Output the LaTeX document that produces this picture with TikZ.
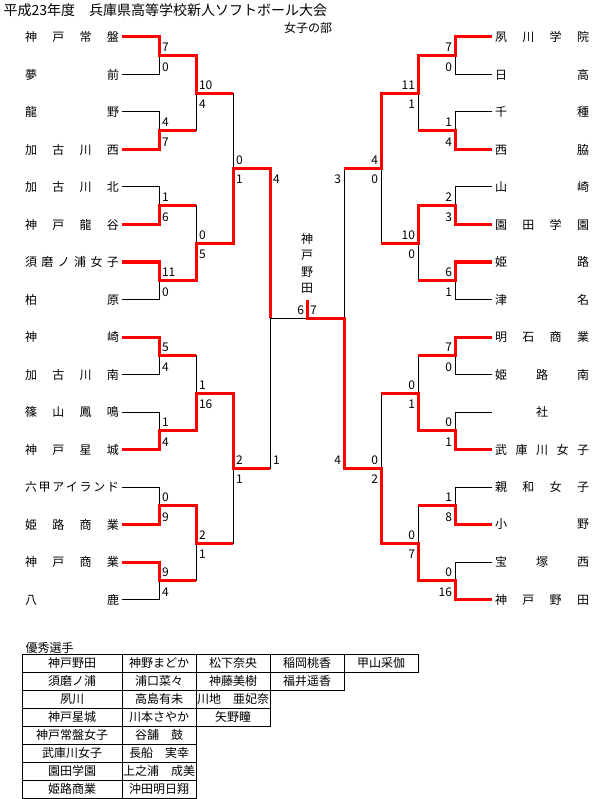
\documentclass[tikz,border=0pt]{standalone}
\usepackage{fontspec}
\setmainfont{Noto Sans CJK JP}
\usepackage{tikz}
\usetikzlibrary{positioning}
\newcommand\bkfont{\fontsize{12pt}{16.5pt}\selectfont}
\newcommand\ttlfont{\fontsize{14pt}{17pt}\selectfont}

\begin{document}
\begin{tikzpicture}[x=1pt, y=-1pt, line width=1pt, every node/.style={font=\bkfont}]
\tikzstyle{lname}=[anchor=east, text width=94pt, align=center, inner xsep=3pt, inner ysep=0pt, outer sep=0pt]
\tikzstyle{rname}=[anchor=west, text width=94pt, align=center, inner xsep=3pt, inner ysep=0pt, outer sep=0pt]
\tikzstyle{win}=[red, line width=3pt]
\tikzstyle{ltop}=[anchor=west, inner sep=0pt, xshift=2.5pt, yshift=8.5pt]
\tikzstyle{lbot}=[anchor=west, inner sep=0pt, xshift=2.5pt, yshift=-11pt]
\tikzstyle{rtop}=[anchor=east, inner sep=0pt, xshift=-2.5pt, yshift=8.5pt]
\tikzstyle{rbot}=[anchor=east, inner sep=0pt, xshift=-2.5pt, yshift=-11pt]
\tikzstyle{cell}=[draw, minimum width=74pt, minimum height=18pt, inner sep=0pt, outer sep=0pt]
\tikzstyle{wide}=[minimum width=100pt]
\useasboundingbox (0,0) rectangle (594,799);

\node[anchor=west, inner sep=0pt, font=\ttlfont] (title) at (3,10.5) {平成23年度　兵庫県高等学校新人ソフトボール大会};
\node[inner sep=0pt] (section) at (308,28) {女子の部};

% left half
\node[lname] (lt0) at (122,37) {神\hfill 戸\hfill 常\hfill 盤};
\node[lname] (lt1) at (122,74.5) {夢\hfill 前};
\node[lname] (lt2) at (122,112) {龍\hfill 野};
\node[lname] (lt3) at (122,149.5) {加\hfill 古\hfill 川\hfill 西};
\node[lname] (lt4) at (122,187) {加\hfill 古\hfill 川\hfill 北};
\node[lname] (lt5) at (122,224.5) {神\hfill 戸\hfill 龍\hfill 谷};
\node[lname] (lt6) at (122,262) {須\hfill 磨\hfill ノ\hfill 浦\hfill 女\hfill 子};
\node[lname] (lt7) at (122,299.5) {柏\hfill 原};
\node[lname] (lt8) at (122,337) {神\hfill 崎};
\node[lname] (lt9) at (122,374.5) {加\hfill 古\hfill 川\hfill 南};
\node[lname] (lt10) at (122,412) {篠\hfill 山\hfill 鳳\hfill 鳴};
\node[lname] (lt11) at (122,449.5) {神\hfill 戸\hfill 星\hfill 城};
\node[lname] (lt12) at (122,487) {六\hfill 甲\hfill ア\hfill イ\hfill ラ\hfill ン\hfill ド};
\node[lname] (lt13) at (122,524.5) {姫\hfill 路\hfill 商\hfill 業};
\node[lname] (lt14) at (122,562) {神\hfill 戸\hfill 商\hfill 業};
\node[lname] (lt15) at (122,599.5) {八\hfill 鹿};

% right half
\node[rname] (rt0) at (492,37) {夙\hfill 川\hfill 学\hfill 院};
\node[rname] (rt1) at (492,74.5) {日\hfill 高};
\node[rname] (rt2) at (492,112) {千\hfill 種};
\node[rname] (rt3) at (492,149.5) {西\hfill 脇};
\node[rname] (rt4) at (492,187) {山\hfill 崎};
\node[rname] (rt5) at (492,224.5) {園\hfill 田\hfill 学\hfill 園};
\node[rname] (rt6) at (492,262) {姫\hfill 路};
\node[rname] (rt7) at (492,299.5) {津\hfill 名};
\node[rname] (rt8) at (492,337) {明\hfill 石\hfill 商\hfill 業};
\node[rname] (rt9) at (492,374.5) {姫\hfill 路\hfill 南};
\node[rname] (rt10) at (492,412) {社};
\node[rname] (rt11) at (492,449.5) {武\hfill 庫\hfill 川\hfill 女\hfill 子};
\node[rname] (rt12) at (492,487) {親\hfill 和\hfill 女\hfill 子};
\node[rname] (rt13) at (492,524.5) {小\hfill 野};
\node[rname] (rt14) at (492,562) {宝\hfill 塚\hfill 西};
\node[rname] (rt15) at (492,599.5) {神\hfill 戸\hfill 野\hfill 田};

% match points
\coordinate (la1) at (159,55.75); \coordinate (la2) at (159,130.75); \coordinate (la3) at (159,205.75); \coordinate (la4) at (159,280.75);
\coordinate (la5) at (159,355.75); \coordinate (la6) at (159,430.75); \coordinate (la7) at (159,505.75); \coordinate (la8) at (159,580.75);
\coordinate (lb1) at (196,93.25); \coordinate (lb2) at (196,243.25); \coordinate (lb3) at (196,393.25); \coordinate (lb4) at (196,543.25);
\coordinate (lc1) at (233,168.25); \coordinate (lc2) at (233,468.25);
\coordinate (ld) at (270,318.25);
\coordinate (ra1) at (455,55.75); \coordinate (ra2) at (455,130.75); \coordinate (ra3) at (455,205.75); \coordinate (ra4) at (455,280.75);
\coordinate (ra5) at (455,355.75); \coordinate (ra6) at (455,430.75); \coordinate (ra7) at (455,505.75); \coordinate (ra8) at (455,580.75);
\coordinate (rb1) at (418,93.25); \coordinate (rb2) at (418,243.25); \coordinate (rb3) at (418,393.25); \coordinate (rb4) at (418,543.25);
\coordinate (rc1) at (381,168.25); \coordinate (rc2) at (381,468.25);
\coordinate (rd) at (344,318.25);
\coordinate (fin) at (307,318.25);
\coordinate (tick) at (307,300);

% bracket lines
\draw (lt0.east) -| (la1) (lt1.east) -| (la1) (lt2.east) -| (la2) (lt3.east) -| (la2)
      (lt4.east) -| (la3) (lt5.east) -| (la3) (lt6.east) -| (la4) (lt7.east) -| (la4)
      (lt8.east) -| (la5) (lt9.east) -| (la5) (lt10.east) -| (la6) (lt11.east) -| (la6)
      (lt12.east) -| (la7) (lt13.east) -| (la7) (lt14.east) -| (la8) (lt15.east) -| (la8);
\draw (la1) -| (lb1) (la2) -| (lb1) (la3) -| (lb2) (la4) -| (lb2)
      (la5) -| (lb3) (la6) -| (lb3) (la7) -| (lb4) (la8) -| (lb4)
      (lb1) -| (lc1) (lb2) -| (lc1) (lb3) -| (lc2) (lb4) -| (lc2)
      (lc1) -| (ld) (lc2) -| (ld) (ld) -- (fin) -- (rd);
\draw (rt0.west) -| (ra1) (rt1.west) -| (ra1) (rt2.west) -| (ra2) (rt3.west) -| (ra2)
      (rt4.west) -| (ra3) (rt5.west) -| (ra3) (rt6.west) -| (ra4) (rt7.west) -| (ra4)
      (rt8.west) -| (ra5) (rt9.west) -| (ra5) (rt10.west) -| (ra6) (rt11.west) -| (ra6)
      (rt12.west) -| (ra7) (rt13.west) -| (ra7) (rt14.west) -| (ra8) (rt15.west) -| (ra8);
\draw (ra1) -| (rb1) (ra2) -| (rb1) (ra3) -| (rb2) (ra4) -| (rb2)
      (ra5) -| (rb3) (ra6) -| (rb3) (ra7) -| (rb4) (ra8) -| (rb4)
      (rb1) -| (rc1) (rb2) -| (rc1) (rb3) -| (rc2) (rb4) -| (rc2)
      (rc1) -| (rd) (rc2) -| (rd);

% winners
\draw[win] (lt0.east) -| (la1) -| (lb1) -- (lb1 -| lc1);
\draw[win] (lt3.east) -| (la2) -- (la2 -| lb1);
\draw[win] (lt5.east) -| (la3) -- (la3 -| lb2);
\draw[win] (lt6.east) -| (la4) -| (lb2) -| (lc1) -| (ld);
\draw[win] (lt8.east) -| (la5) -- (la5 -| lb3);
\draw[win] (lt11.east) -| (la6) -| (lb3) -| (lc2) -- (lc2 -| ld);
\draw[win] (lt13.east) -| (la7) -| (lb4) -- (lb4 -| lc2);
\draw[win] (lt14.east) -| (la8) -- (la8 -| lb4);
\draw[win] (rt0.west) -| (ra1) -| (rb1) -| (rc1) -- (rc1 -| rd);
\draw[win] (rt3.west) -| (ra2) -- (ra2 -| rb1);
\draw[win] (rt5.west) -| (ra3) -| (rb2) -- (rb2 -| rc1);
\draw[win] (rt6.west) -| (ra4) -- (ra4 -| rb2);
\draw[win] (rt8.west) -| (ra5) -- (ra5 -| rb3);
\draw[win] (rt11.west) -| (ra6) -| (rb3) -- (rb3 -| rc2);
\draw[win] (rt13.west) -| (ra7) -- (ra7 -| rb4);
\draw[win] (rt15.west) -| (ra8) -| (rb4) -| (rc2) -| (rd) -- (fin) -- (tick);

% scores
\node[ltop] (la1u) at (la1) {7}; \node[lbot] (la1d) at (la1) {0};
\node[ltop] (la2u) at (la2) {4}; \node[lbot] (la2d) at (la2) {7};
\node[ltop] (la3u) at (la3) {1}; \node[lbot] (la3d) at (la3) {6};
\node[ltop] (la4u) at (la4) {11}; \node[lbot] (la4d) at (la4) {0};
\node[ltop] (la5u) at (la5) {5}; \node[lbot] (la5d) at (la5) {4};
\node[ltop] (la6u) at (la6) {1}; \node[lbot] (la6d) at (la6) {4};
\node[ltop] (la7u) at (la7) {0}; \node[lbot] (la7d) at (la7) {9};
\node[ltop] (la8u) at (la8) {9}; \node[lbot] (la8d) at (la8) {4};
\node[ltop] (lb1u) at (lb1) {10}; \node[lbot] (lb1d) at (lb1) {4};
\node[ltop] (lb2u) at (lb2) {0}; \node[lbot] (lb2d) at (lb2) {5};
\node[ltop] (lb3u) at (lb3) {1}; \node[lbot] (lb3d) at (lb3) {16};
\node[ltop] (lb4u) at (lb4) {2}; \node[lbot] (lb4d) at (lb4) {1};
\node[ltop] (lc1u) at (lc1) {0}; \node[lbot] (lc1d) at (lc1) {1};
\node[ltop] (lc2u) at (lc2) {2}; \node[lbot] (lc2d) at (lc2) {1};
\node[lbot] (ldu) at (lc1 -| ld) {4}; \node[ltop] (ldd) at (lc2 -| ld) {1};
\node[rtop] (ra1u) at (ra1) {7}; \node[rbot] (ra1d) at (ra1) {0};
\node[rtop] (ra2u) at (ra2) {1}; \node[rbot] (ra2d) at (ra2) {4};
\node[rtop] (ra3u) at (ra3) {2}; \node[rbot] (ra3d) at (ra3) {3};
\node[rtop] (ra4u) at (ra4) {6}; \node[rbot] (ra4d) at (ra4) {1};
\node[rtop] (ra5u) at (ra5) {7}; \node[rbot] (ra5d) at (ra5) {0};
\node[rtop] (ra6u) at (ra6) {0}; \node[rbot] (ra6d) at (ra6) {1};
\node[rtop] (ra7u) at (ra7) {1}; \node[rbot] (ra7d) at (ra7) {8};
\node[rtop] (ra8u) at (ra8) {0}; \node[rbot] (ra8d) at (ra8) {16};
\node[rtop] (rb1u) at (rb1) {11}; \node[rbot] (rb1d) at (rb1) {1};
\node[rtop] (rb2u) at (rb2) {10}; \node[rbot] (rb2d) at (rb2) {0};
\node[rtop] (rb3u) at (rb3) {0}; \node[rbot] (rb3d) at (rb3) {1};
\node[rtop] (rb4u) at (rb4) {0}; \node[rbot] (rb4d) at (rb4) {7};
\node[rtop] (rc1u) at (rc1) {4}; \node[rbot] (rc1d) at (rc1) {0};
\node[rtop] (rc2u) at (rc2) {0}; \node[rbot] (rc2d) at (rc2) {2};
\node[rbot] (rdu) at (rc1 -| rd) {3}; \node[rtop] (rdd) at (rc2 -| rd) {4};
\node[rtop] (finl) at (fin) {6}; \node[ltop] (finr) at (fin) {7};
\node[anchor=south, align=center, inner sep=0pt] (champ) at (307,294) {神\\戸\\野\\田};

% best players
\node[anchor=west, inner sep=0pt] (award) at (25,647.5) {優秀選手};
\node[cell, wide, anchor=north west] (c11) at (22,654) {神戸野田};
\node[cell, right=0pt of c11] (c12) {神野まどか};
\node[cell, right=0pt of c12] (c13) {松下奈央};
\node[cell, right=0pt of c13] (c14) {稲岡桃香};
\node[cell, right=0pt of c14] (c15) {甲山采伽};
\node[cell, wide, below=0pt of c11] (c21) {須磨ノ浦};
\node[cell, right=0pt of c21] (c22) {浦口菜々};
\node[cell, right=0pt of c22] (c23) {神藤美樹};
\node[cell, right=0pt of c23] (c24) {福井遥香};
\node[cell, wide, below=0pt of c21] (c31) {夙川};
\node[cell, right=0pt of c31] (c32) {高島有未};
\node[cell, right=0pt of c32] (c33) {川地　亜妃奈};
\node[cell, wide, below=0pt of c31] (c41) {神戸星城};
\node[cell, right=0pt of c41] (c42) {川本さやか};
\node[cell, right=0pt of c42] (c43) {矢野瞳};
\node[cell, wide, below=0pt of c41] (c51) {神戸常盤女子};
\node[cell, right=0pt of c51] (c52) {谷舗　鼓};
\node[cell, wide, below=0pt of c51] (c61) {武庫川女子};
\node[cell, right=0pt of c61] (c62) {長船　実幸};
\node[cell, wide, below=0pt of c61] (c71) {園田学園};
\node[cell, right=0pt of c71] (c72) {上之浦　成美};
\node[cell, wide, below=0pt of c71] (c81) {姫路商業};
\node[cell, right=0pt of c81] (c82) {沖田明日翔};
\end{tikzpicture}
\end{document}
